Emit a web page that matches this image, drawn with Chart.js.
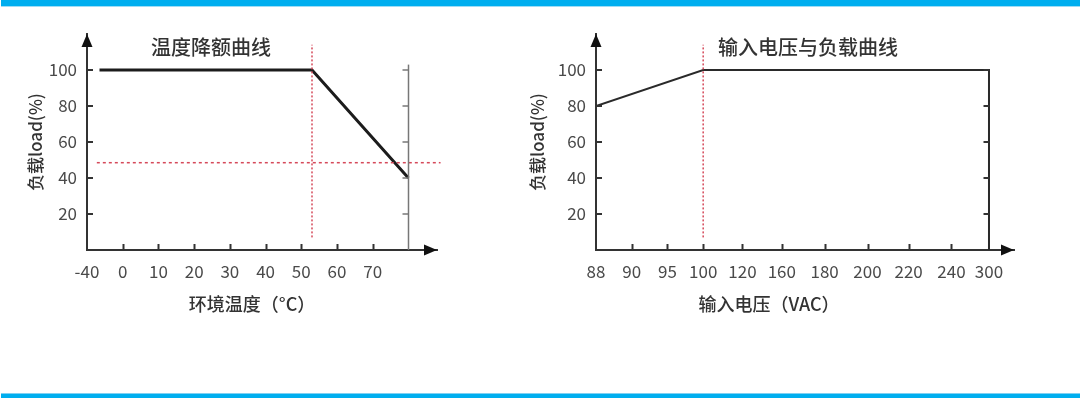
<!DOCTYPE html>
<html>
<head>
<meta charset="utf-8">
<script src="https://cdn.jsdelivr.net/npm/chart.js@4.4.0/dist/chart.umd.min.js"></script>
<style>
body { margin: 0; width: 1080px; height: 398px; background: #fff; position: relative; overflow: hidden; }
.bar { position: absolute; left: 1px; right: 0; background: #00aeef; }
#top { top: 0; height: 6px; border-bottom: 1px solid #9fdcf5; }
#bottom { bottom: 0; height: 4px; border-top: 1px solid #7fd0f2; }
#c1 { position: absolute; left: 0; top: 0; }
#c2 { position: absolute; left: 500px; top: 0; }
</style>
</head>
<body>
<div class="bar" id="top"></div>
<div class="bar" id="bottom"></div>
<canvas id="c1" width="500" height="398"></canvas>
<canvas id="c2" width="580" height="398"></canvas>
<script>
// 温度降额曲线
const tempTicks = [-40, 0, 10, 20, 30, 40, 50, 60, 70, 80]
const tempLabels = ["-40", "0", "10", "20", "30", "40", "50", "60", "70", ""]
const tempX = [-26, 53, 80]
const tempLoad = [100, 100, 40]
const tempKnee = 53
const tempGuide = 48.5

// 输入电压与负载曲线
const voltTicks = [88, 90, 95, 100, 120, 160, 180, 200, 220, 240, 300]
const voltLabels = ["88", "90", "95", "100", "120", "160", "180", "200", "220", "240", "300"]
const voltX = [88, 100, 300, 300]
const voltLoad = [80, 100, 100, 0]
const voltKnee = 100

const loadTicks = [20, 40, 60, 80, 100]

// where each tick sits along the (uneven) x axis
const tempSlots = [0, 1, 2, 3, 4, 5, 6, 7, 8, 9]
const voltSlots = [0, 1, 2, 3, 4.1, 5.2, 6.4, 7.6, 8.75, 9.95, 11]

Chart.defaults.font.family = '"Noto Sans CJK SC", "Noto Sans", sans-serif'

function toSlot(v, vals, slots) {
    let i = 0
    while (i < vals.length - 2 && v > vals[i + 1]) i++
    return slots[i] + (v - vals[i]) / (vals[i + 1] - vals[i]) * (slots[i + 1] - slots[i])
}

const decor = {
    id: "decor",
    afterDraw(chart, args, o) {
        const { ctx, chartArea: a, scales: { x, y } } = chart
        ctx.save()
        ctx.strokeStyle = "#333"
        ctx.lineWidth = 2
        // x ticks pointing up
        o.xTicks.forEach(s => {
            const px = Math.round(x.getPixelForValue(s)) + 0.5
            ctx.beginPath(); ctx.moveTo(px, a.bottom); ctx.lineTo(px, a.bottom - 6); ctx.stroke()
        })
        // y ticks pointing right
        loadTicks.forEach(v => {
            const py = Math.round(y.getPixelForValue(v))
            ctx.beginPath(); ctx.moveTo(a.left, py); ctx.lineTo(a.left + 6, py); ctx.stroke()
        })
        // right side frame
        const xr = Math.round(x.getPixelForValue(o.endSlot)) + 0.5
        ctx.strokeStyle = o.endColor
        ctx.lineWidth = o.endWidth
        if (o.endTop) {
            ctx.beginPath(); ctx.moveTo(xr, a.bottom); ctx.lineTo(xr, y.getPixelForValue(o.endTop)); ctx.stroke()
        }
        loadTicks.forEach(v => {
            const py = Math.round(y.getPixelForValue(v))
            ctx.beginPath(); ctx.moveTo(xr - 6, py); ctx.lineTo(xr, py); ctx.stroke()
        })
        // arrows
        ctx.fillStyle = "#111"
        ctx.beginPath()
        ctx.moveTo(a.left, a.top)
        ctx.lineTo(a.left - 5.5, a.top + 13)
        ctx.lineTo(a.left + 5.5, a.top + 13)
        ctx.fill()
        ctx.beginPath()
        ctx.moveTo(a.right, a.bottom)
        ctx.lineTo(a.right - 13, a.bottom - 5.5)
        ctx.lineTo(a.right - 13, a.bottom + 5.5)
        ctx.fill()
        // titles
        ctx.textAlign = "center"
        ctx.textBaseline = "middle"
        ctx.fillStyle = "#333"
        ctx.font = '500 20px "Noto Sans CJK SC"'
        ctx.fillText(o.title, o.titleX, 47)
        ctx.font = '500 18px "Noto Sans CJK SC"'
        ctx.fillText(o.xTitle, o.xTitleX, 304)
        ctx.restore()
    }
}

function makeChart(id, cfg) {
    return new Chart(document.getElementById(id), {
        type: "line",
        data: { datasets: cfg.datasets },
        options: {
            responsive: false,
            animation: false,
            events: [],
            layout: { padding: { left: cfg.padLeft, top: 34, right: cfg.padRight, bottom: 0 } },
            plugins: { legend: { display: false }, tooltip: { enabled: false }, decor: cfg.decor },
            scales: {
                x: {
                    type: "linear",
                    min: 0,
                    max: cfg.xMax,
                    afterBuildTicks: s => { s.ticks = cfg.slots.map(v => ({ value: v })) },
                    afterFit: s => { s.height = 148 },
                    grid: { display: false, drawTicks: false },
                    border: { color: "#333", width: 2 },
                    ticks: {
                        autoSkip: false,
                        maxRotation: 0,
                        padding: 11,
                        color: "#4a4a4a",
                        font: { size: 17 },
                        callback: (v, i) => cfg.labels[i]
                    }
                },
                y: {
                    type: "linear",
                    min: 0,
                    max: 120,
                    afterBuildTicks: s => { s.ticks = loadTicks.map(v => ({ value: v })) },
                    afterFit: s => { s.width = cfg.yWidth },
                    grid: { display: false, drawTicks: false },
                    border: { color: "#333", width: 2 },
                    ticks: { padding: 10, color: "#4a4a4a", font: { size: 17 } },
                    title: { display: true, text: "负载load(%)", color: "#333", font: { size: 17, weight: 500 }, padding: { top: 5, bottom: 0 } }
                }
            }
        },
        plugins: [decor]
    })
}

function guide(points, dash) {
    return {
        data: points,
        borderColor: "#d5495a",
        borderWidth: 1.5,
        borderDash: dash,
        pointRadius: 0,
        clip: false
    }
}

const tSlot = t => toSlot(t, tempTicks, tempSlots)
const vSlot = v => toSlot(v, voltTicks, voltSlots)

makeChart("c1", {
    padLeft: 20,
    padRight: 63,
    yWidth: 67,
    xMax: 9.8,
    slots: tempTicks.slice(0, 9).map(tSlot),
    labels: tempLabels,
    datasets: [
        guide([{ x: tSlot(tempKnee), y: 7 }, { x: tSlot(tempKnee), y: 114 }], [2, 2]),
        guide([{ x: tSlot(-29), y: tempGuide }, { x: tSlot(89), y: tempGuide }], [3, 3]),
        {
            data: tempX.map((t, i) => ({ x: tSlot(t), y: tempLoad[i] })),
            borderColor: "#1c1c1c",
            borderWidth: 3,
            pointRadius: 0,
            tension: 0
        }
    ],
    decor: {
        xTicks: tempTicks.slice(1, 9).map(tSlot),
        endSlot: tSlot(80),
        endTop: 103,
        endColor: "#777",
        endWidth: 1.5,
        title: "温度降额曲线",
        titleX: 211,
        xTitle: "环境温度（°C）",
        xTitleX: 252
    }
})

makeChart("c2", {
    padLeft: 22,
    padRight: 66,
    yWidth: 74,
    xMax: 11.7,
    slots: voltTicks.map(vSlot),
    labels: voltLabels,
    datasets: [
        guide([{ x: vSlot(voltKnee), y: 7 }, { x: vSlot(voltKnee), y: 114 }], [2, 2]),
        {
            data: voltX.map((v, i) => ({ x: vSlot(v), y: voltLoad[i] })),
            borderColor: "#2a2a2a",
            borderWidth: 2,
            pointRadius: 0,
            tension: 0
        }
    ],
    decor: {
        xTicks: voltTicks.slice(1, 10).map(vSlot),
        endSlot: vSlot(300),
        endTop: 0,
        endColor: "#333",
        endWidth: 2,
        title: "输入电压与负载曲线",
        titleX: 308,
        xTitle: "输入电压（VAC）",
        xTitleX: 269
    }
})
</script>
</body>
</html>
